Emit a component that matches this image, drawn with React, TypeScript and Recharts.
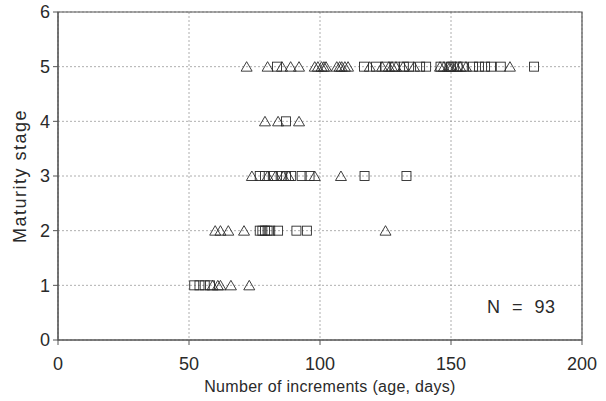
import React from "react";
import {
  ScatterChart,
  Scatter,
  XAxis,
  YAxis,
  CartesianGrid,
  ReferenceArea,
  Label,
} from "recharts";

// ages (number of increments), per maturity stage and symbol
const stage1Squares = [52, 54, 56, 58];
const stage1Triangles = [59, 61, 62, 66, 73];
const stage2Squares = [77, 78, 79, 80, 81, 84, 91, 95];
const stage2Triangles = [60, 62, 65, 71, 125];
const stage3Squares = [77, 79, 82, 85, 87, 89, 93, 96, 117, 133];
const stage3Triangles = [74, 80, 83, 86, 88, 98, 108];
const stage4Squares = [87];
const stage4Triangles = [79, 84, 92];
const stage5Squares = [
  83.6, 116.8, 121.4, 125, 128.5, 132, 134, 138.2, 140.5, 146, 150, 152.5,
  154.5, 158.4, 160.7, 163, 165.3, 169, 181.7,
];
const stage5Triangles = [
  72, 80, 85.5, 88.8, 92, 98, 99.2, 100.6, 101.5, 102.3, 106.4, 107.5, 108.3,
  109.5, 110.7, 119, 123.7, 126.3, 127.5, 129, 131.7, 135.9, 145.8, 147.3,
  148.9, 149.6, 150.4, 151.9, 153.5, 155.7, 172.5,
];

const xTicks = [0, 50, 100, 150, 200];
const yTicks = [0, 1, 2, 3, 4, 5, 6];

const squareGroups = [stage1Squares, stage2Squares, stage3Squares, stage4Squares, stage5Squares];
const triangleGroups = [
  stage1Triangles,
  stage2Triangles,
  stage3Triangles,
  stage4Triangles,
  stage5Triangles,
];

const toPoints = (groups: number[][]) =>
  groups.flatMap((ages, i) => ages.map((age) => ({ age, stage: i + 1 })));

const squareData = toPoints(squareGroups);
const triangleData = toPoints(triangleGroups);

const INK = "#2a2a2a";
const FONT = "'Liberation Sans', Arial, sans-serif";

const SquareMark = (props: any) => {
  const { cx, cy } = props;
  return (
    <rect x={cx - 4.5} y={cy - 4.5} width={9} height={9} fill="none" stroke={INK} strokeWidth={0.9} />
  );
};

const TriangleMark = (props: any) => {
  const { cx, cy } = props;
  const pts = `${cx - 5.5},${cy + 4.5} ${cx + 5.5},${cy + 4.5} ${cx},${cy - 5}`;
  return <polygon points={pts} fill="none" stroke={INK} strokeWidth={0.9} />;
};

export default function App() {
  return (
    <div style={{ position: "absolute", left: 0, top: 0, background: "#fff", fontFamily: FONT }}>
      <ScatterChart width={606} height={401} margin={{ top: 12, right: 24, bottom: 0, left: 0 }}>
        <CartesianGrid stroke="#9a9a9a" strokeDasharray="2 2" strokeWidth={0.8} />
        <XAxis
          type="number"
          dataKey="age"
          domain={[0, 200]}
          ticks={xTicks}
          height={61}
          tickSize={5}
          tickMargin={12}
          stroke="#555"
          tick={{ fill: INK, fontSize: 18, fontFamily: FONT }}
        >
          <Label
            value="Number of increments (age, days)"
            position="insideBottom"
            offset={9}
            dx={10}
            style={{ fill: INK, fontSize: 16, fontFamily: FONT, letterSpacing: 0.3 }}
          />
        </XAxis>
        <YAxis
          type="number"
          dataKey="stage"
          domain={[0, 6]}
          ticks={yTicks}
          width={58}
          tickSize={5}
          tickMargin={3}
          stroke="#555"
          tick={{ fill: INK, fontSize: 18, fontFamily: FONT }}
        >
          <Label
            value="Maturity stage"
            angle={-90}
            position="insideLeft"
            offset={20}
            style={{ fill: INK, fontSize: 18, fontFamily: FONT, textAnchor: "middle", letterSpacing: 1.5 }}
          />
        </YAxis>
        <ReferenceArea
          x1={0}
          x2={200}
          y1={0}
          y2={6}
          fill="none"
          stroke="#555"
          strokeWidth={1.2}
          ifOverflow="visible"
        />
        <Scatter data={squareData} shape={SquareMark} isAnimationActive={false} />
        <Scatter data={triangleData} shape={TriangleMark} isAnimationActive={false} />
      </ScatterChart>
      <div
        style={{
          position: "absolute",
          left: 487,
          top: 297,
          fontSize: 18,
          color: INK,
          fontFamily: FONT,
          letterSpacing: 0.5,
          wordSpacing: 6,
          whiteSpace: "pre",
        }}
      >
        N = 93
      </div>
    </div>
  );
}
